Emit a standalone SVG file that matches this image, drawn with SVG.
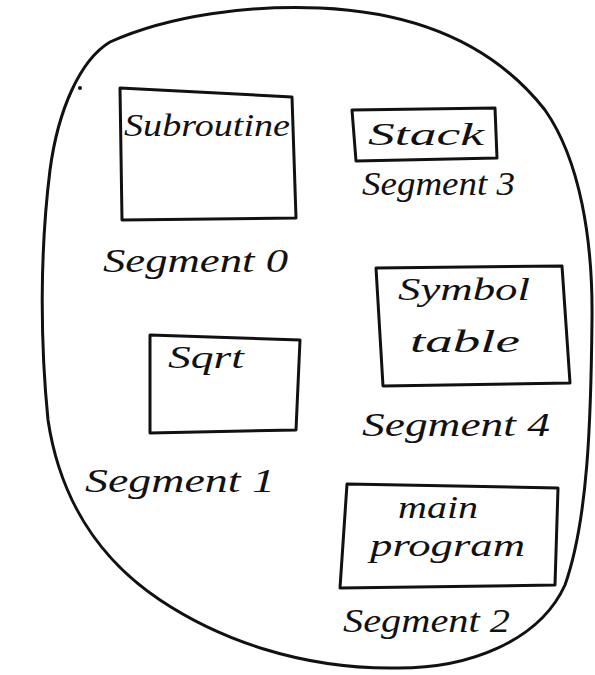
<svg xmlns="http://www.w3.org/2000/svg" width="595" height="675" viewBox="0 0 595 675">
<style>
.ink{fill:none;stroke:#111;stroke-width:3;stroke-linejoin:round;stroke-linecap:round}
.t{font-family:"Liberation Serif","DejaVu Serif",serif;font-style:italic;fill:#111;font-size:32px}
.lbl{font-family:"Liberation Serif","DejaVu Serif",serif;font-style:italic;fill:#111;font-size:34px}
</style>
<rect width="595" height="675" fill="#fff"/>
<g id="memory">
<path class="ink" d="M110 42 C170 15 250 5 320 8 C410 12 490 40 545 110 C580 160 593 240 592 320 C591 420 588 520 565 585 C540 640 470 670 390 668 C300 668 220 640 160 600 C100 560 60 500 48 420 C40 340 40 250 50 170 C58 110 80 60 110 42 Z"/>
<circle cx="80" cy="88" r="2" fill="#111"/>
</g>
<g id="segment0">
<path class="ink" d="M120 88 L292 97 L296 218 L122 220 Z"/>
<text class="t" x="124" y="136" textLength="166" lengthAdjust="spacingAndGlyphs">Subroutine</text>
<text class="lbl" x="103" y="272" textLength="185" lengthAdjust="spacingAndGlyphs">Segment 0</text>
</g>
<g id="segment3">
<path class="ink" d="M352 110 L495 108 L497 158 L356 161 Z"/>
<text class="t" x="368" y="145" textLength="116" lengthAdjust="spacingAndGlyphs">Stack</text>
<text class="lbl" x="362" y="195" textLength="153" lengthAdjust="spacingAndGlyphs">Segment 3</text>
</g>
<g id="segment1">
<path class="ink" d="M150 335 L300 340 L296 430 L150 433 Z"/>
<text class="t" x="168" y="368" textLength="76" lengthAdjust="spacingAndGlyphs">Sqrt</text>
<text class="lbl" x="85" y="492" textLength="190" lengthAdjust="spacingAndGlyphs">Segment 1</text>
</g>
<g id="segment4">
<path class="ink" d="M376 268 L562 266 L570 383 L383 386 Z"/>
<text class="t" x="398" y="300" textLength="132" lengthAdjust="spacingAndGlyphs">Symbol</text>
<text class="t" x="410" y="352" textLength="110" lengthAdjust="spacingAndGlyphs">table</text>
<text class="lbl" x="362" y="436" textLength="188" lengthAdjust="spacingAndGlyphs">Segment 4</text>
</g>
<g id="segment2">
<path class="ink" d="M347 484 L558 488 L555 585 L340 588 Z"/>
<text class="t" x="398" y="518" textLength="80" lengthAdjust="spacingAndGlyphs">main</text>
<text class="t" x="370" y="556" textLength="155" lengthAdjust="spacingAndGlyphs">program</text>
<text class="lbl" x="343" y="632" textLength="167" lengthAdjust="spacingAndGlyphs">Segment 2</text>
</g>
<g id="connectors"/>
</svg>
